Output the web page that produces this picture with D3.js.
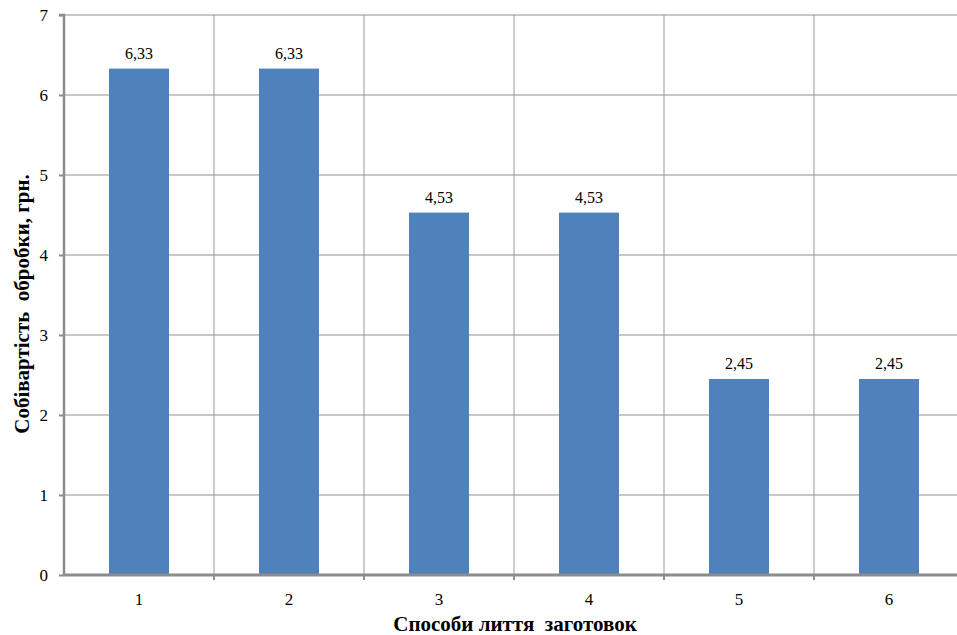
<!DOCTYPE html>
<html><head><meta charset="utf-8">
<script src="https://cdn.jsdelivr.net/npm/d3@7"></script>
<style>
html,body{margin:0;padding:0;background:#fff;overflow:hidden;}
svg text{font-family:"Liberation Serif","DejaVu Serif",serif !important;}
</style></head>
<body>
<svg id="chart" width="957" height="635"></svg>
<script>
const categories = ["1","2","3","4","5","6"];
const values = [6.33, 6.33, 4.53, 4.53, 2.45, 2.45];
const valueLabels = ["6,33","6,33","4,53","4,53","2,45","2,45"];
const yTicks = [0,1,2,3,4,5,6,7];
const xTitle = "Способи лиття  заготовок";
const yTitle = "Собівартість  обробки, грн.";

const svg = d3.select("#chart");
const pLeft = 64, pRight = 964, pTop = 15, pBottom = 575;

const x = d3.scaleBand().domain(categories).range([pLeft, pRight]).paddingInner(0.6).paddingOuter(0.3);
const xb = d3.scaleBand().domain(categories).range([pLeft, pRight]);
const y = d3.scaleLinear().domain([0, 7]).range([pBottom, pTop]);

// horizontal gridlines
svg.append("g").selectAll("line").data(yTicks.filter(d => d > 0)).join("line")
  .attr("x1", pLeft).attr("x2", pRight)
  .attr("y1", d => y(d)).attr("y2", d => y(d))
  .attr("stroke", "#b4b4b4").attr("stroke-width", 1.3);

// vertical gridlines at category boundaries
svg.append("g").selectAll("line").data(categories.slice(1)).join("line")
  .attr("x1", d => xb(d)).attr("x2", d => xb(d))
  .attr("y1", pTop).attr("y2", pBottom)
  .attr("stroke", "#9a9a9a").attr("stroke-width", 1);

// bars
svg.append("g").selectAll("rect").data(values).join("rect")
  .attr("x", (d, i) => x(categories[i]))
  .attr("width", x.bandwidth())
  .attr("y", d => y(d))
  .attr("height", d => y(0) - y(d))
  .attr("fill", "#4f81bd");

// value labels
svg.append("g").selectAll("text").data(values).join("text")
  .attr("x", (d, i) => x(categories[i]) + x.bandwidth() / 2)
  .attr("y", d => y(d) - 10)
  .attr("text-anchor", "middle")
  .attr("font-size", 16)
  .attr("fill", "#000")
  .text((d, i) => valueLabels[i]);

// y axis
const yAxis = d3.axisLeft(y).tickValues(yTicks).tickSize(5).tickPadding(11).tickFormat(d3.format("d"));
const gy = svg.append("g").attr("transform", `translate(${pLeft},0)`).call(yAxis);
gy.select(".domain").attr("stroke", "#8c8c8c").attr("stroke-width", 2.5).attr("d", `M-5,${pTop}H0V${pBottom}`);
gy.selectAll(".tick line").attr("stroke", "#8c8c8c").attr("stroke-width", 2);
gy.selectAll(".tick text").attr("font-size", 17).attr("fill", "#000");

// x axis
const xAxis = d3.axisBottom(xb).tickSize(0).tickPadding(18);
const gx = svg.append("g").attr("transform", `translate(0,${pBottom})`).call(xAxis);
gx.select(".domain").attr("stroke", "#8c8c8c").attr("stroke-width", 3).attr("d", `M${pLeft},0H${pRight}`);
gx.selectAll(".tick text").attr("font-size", 17).attr("fill", "#000");
// boundary tick marks
gx.append("g").selectAll("line").data(categories.slice(1)).join("line")
  .attr("x1", d => xb(d)).attr("x2", d => xb(d))
  .attr("y1", 0).attr("y2", 5)
  .attr("stroke", "#8c8c8c").attr("stroke-width", 2);

// axis titles
svg.append("text")
  .attr("x", 515).attr("y", 631)
  .attr("text-anchor", "middle")
  .attr("font-size", 21).attr("font-weight", "bold")
  .style("white-space", "pre")
  .text(xTitle);

svg.append("text")
  .attr("transform", "translate(29,304) rotate(-90)")
  .attr("text-anchor", "middle")
  .attr("font-size", 21).attr("font-weight", "bold")
  .style("white-space", "pre")
  .text(yTitle);
</script>
</body></html>
